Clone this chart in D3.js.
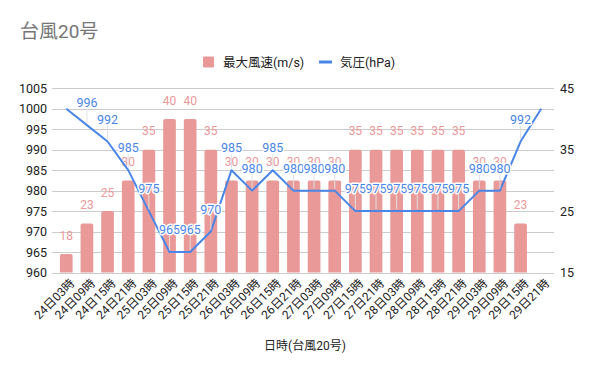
<!DOCTYPE html>
<html><head><meta charset="utf-8">
<script src="https://cdn.jsdelivr.net/npm/d3@7"></script>
<style>
body{margin:0;background:#fff;}
text{font-family:Roboto,"Noto Sans CJK JP",sans-serif;}
</style></head>
<body><svg id="c" width="600" height="371"></svg>
<script>
const categories = ["24日03時","24日09時","24日15時","24日21時","25日03時","25日09時","25日15時","25日21時","26日03時","26日09時","26日15時","26日21時","27日03時","27日09時","27日15時","27日21時","28日03時","28日09時","28日15時","28日21時","29日03時","29日09時","29日15時","29日21時"];
const windSpeed = [18,23,25,30,35,40,40,35,30,30,30,30,30,30,35,35,35,35,35,35,30,30,23,null];
const pressure = [1000,996,992,985,975,965,965,970,985,980,985,980,980,980,975,975,975,975,975,975,980,980,992,1000];
const pressureLabelShown = [false,true,true,true,true,true,true,true,true,true,true,true,true,true,true,true,true,true,true,true,true,true,true,false];
const leftTicks = [960,965,970,975,980,985,990,995,1000,1005];
const rightTicks = [15,25,35,45];
const title = "台風20号";
const xTitle = "日時(台風20号)";
const seriesNames = ["最大風速(m/s)","気圧(hPa)"];

const barColor = "#ea9999", lineColor = "#4a86e8";
const FF = 'Roboto,"Noto Sans CJK JP",sans-serif';
const svg = d3.select("#c");
const L = 56, R = 551.5, T = 88.3, B = 272.5;

const x = d3.scaleBand().domain(categories).range([L, R]).paddingInner(0.385).paddingOuter(0.19);
const yL = d3.scaleLinear().domain([960,1005]).range([B, T]);
const yR = d3.scaleLinear().domain([15,45]).range([B, T]);

// title
svg.append("text").attr("x",20).attr("y",38).attr("font-size",19).attr("fill","#757575").text(title);

// gridlines
svg.append("g").selectAll("line").data(leftTicks).join("line")
  .attr("x1",52).attr("x2",554).attr("y1",d=>Math.round(yL(d))+0.5).attr("y2",d=>Math.round(yL(d))+0.5)
  .attr("stroke","#cccccc").attr("stroke-width",1);

// left axis
const ga = svg.append("g").attr("transform",`translate(${47},0)`)
  .call(d3.axisLeft(yL).tickValues(leftTicks).tickFormat(d3.format("d")).tickSize(0).tickPadding(0));
ga.select(".domain").remove();
ga.selectAll("text").attr("font-size",12.5).attr("fill","#222").attr("font-family",FF);

// right axis
const gr = svg.append("g").attr("transform",`translate(${560},0)`)
  .call(d3.axisRight(yR).tickValues(rightTicks).tickFormat(d3.format("d")).tickSize(0).tickPadding(0));
gr.select(".domain").remove();
gr.selectAll("text").attr("font-size",12.5).attr("fill","#222").attr("font-family",FF);

// bars
const barData = categories.map((c,i)=>({c, v: windSpeed[i]})).filter(d=>d.v!=null);
svg.append("g").selectAll("path").data(barData).join("path")
  .attr("fill",barColor)
  .attr("d", d=>{
    const x0 = x(d.c), w = x.bandwidth(), y0 = yR(d.v), r = 2;
    return `M${x0},${B}V${y0+r}Q${x0},${y0} ${x0+r},${y0}H${x0+w-r}Q${x0+w},${y0} ${x0+w},${y0+r}V${B}Z`;
  });

// bar labels
svg.append("g").selectAll("text").data(barData).join("text")
  .attr("x", d=>x(d.c)+x.bandwidth()/2).attr("y", d=>yR(d.v)-14.5)
  .attr("text-anchor","middle").attr("font-size",12).attr("fill",barColor)
  .text(d=>d.v);

// x axis labels
const gx = svg.append("g");
categories.forEach(c=>{
  const cx = x(c)+x.bandwidth()/2;
  gx.append("text").attr("transform",`translate(${cx+6},${281}) rotate(-45)`)
    .attr("text-anchor","end").attr("font-size",12).attr("fill","#222").attr("dy","0.35em").text(c);
});

// line
const lineData = categories.map((c,i)=>({c, v: pressure[i], show: pressureLabelShown[i]}));
const cxOf = d=>x(d.c)+x.bandwidth()/2;
svg.append("path").datum(lineData)
  .attr("fill","none").attr("stroke",lineColor).attr("stroke-width",2).attr("stroke-linejoin","round")
  .attr("d", d3.line().x(cxOf).y(d=>yL(d.v)));

// leader lines
const shown = lineData.filter(d=>d.show);
svg.append("g").selectAll("line").data(shown).join("line")
  .attr("x1",cxOf).attr("x2",cxOf).attr("y1",d=>yL(d.v)-16).attr("y2",d=>yL(d.v)-2)
  .attr("stroke","#e0e0e0").attr("stroke-width",1);

// line labels with halo
svg.append("g").selectAll("text").data(shown).join("text")
  .attr("x",cxOf).attr("y",d=>yL(d.v)-18)
  .attr("text-anchor","middle").attr("font-size",12.5).attr("fill",lineColor)
  .attr("stroke","#fff").attr("stroke-width",3).attr("paint-order","stroke").attr("stroke-linejoin","round")
  .text(d=>d.v);

// legend
const lg = svg.append("g");
lg.append("rect").attr("x",203).attr("y",56.5).attr("width",11).attr("height",11).attr("rx",1).attr("fill",barColor);
lg.append("text").attr("x",223).attr("y",66.5).attr("font-size",12.5).attr("fill","#222").text(seriesNames[0]);
lg.append("rect").attr("x",319).attr("y",60.5).attr("width",13).attr("height",3).attr("fill",lineColor);
lg.append("text").attr("x",340).attr("y",66.5).attr("font-size",12.5).attr("fill","#222").text(seriesNames[1]);

// x title
svg.append("text").attr("x",305).attr("y",350).attr("text-anchor","middle").attr("font-size",12).attr("fill","#222").text(xTitle);
</script></body></html>
